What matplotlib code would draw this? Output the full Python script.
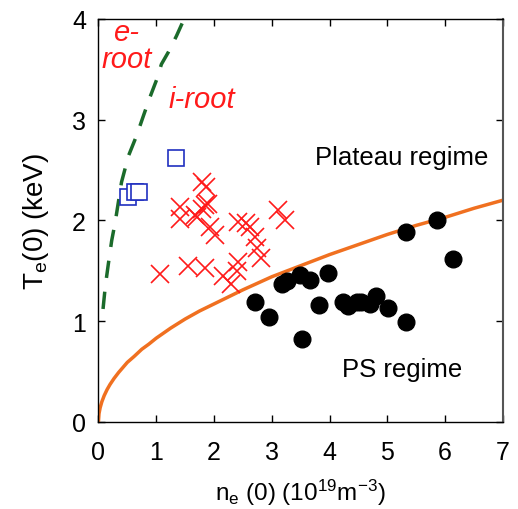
#! /usr/bin/env python3
# -*- coding: utf-8 -*-
"""
@brief   T_e(0) vs n_e(0) with e-root / i-root and PS / plateau regimes
"""

import matplotlib
matplotlib.use("Agg")
import matplotlib.pyplot as plt

# -----------------------------------------------------------------------------

# data
# boundary e-root / i-root (green dashed)
root_n = [0.08, 0.12, 0.17, 0.23, 0.29, 0.40, 0.52, 0.66, 0.78, 0.89,
          1.01, 1.09, 1.21, 1.35, 1.46]
root_T = [1.12, 1.35, 1.56, 1.80, 1.98, 2.38, 2.64, 2.84, 3.04, 3.22,
          3.40, 3.55, 3.67, 3.83, 3.97]

# boundary plateau / PS regime (orange)
ps_n = [0, 0.01, 0.03, 0.06, 0.1, 0.15, 0.2, 0.27, 0.35, 0.5, 0.62, 0.75,
        0.87, 1, 1.25, 1.5, 1.75, 2, 2.5, 3, 3.5, 4, 4.5, 5, 5.5, 6, 6.5, 7]
ps_T = [0, 0.08, 0.14, 0.20, 0.26, 0.32, 0.37, 0.43, 0.49, 0.59, 0.65,
        0.72, 0.77, 0.83, 0.93, 1.02, 1.10, 1.17, 1.31, 1.44, 1.55, 1.66,
        1.76, 1.86, 1.95, 2.03, 2.12, 2.20]

# e-root shots (blue squares)
sq_n = [0.52, 0.63, 0.70, 1.34]
sq_T = [2.23, 2.28, 2.28, 2.62]

# plateau shots (red crosses)
x_n = [1.79, 1.87, 1.41, 1.41, 1.67, 1.84, 1.90, 1.79, 1.70, 1.93, 2.02,
       2.42, 2.56, 2.62, 3.11, 3.23, 2.71, 2.74, 2.82, 1.06, 1.55, 1.84,
       2.16, 2.30, 2.42, 2.39]
x_T = [2.38, 2.33, 2.13, 2.01, 2.05, 2.15, 2.16, 2.11, 2.03, 1.93, 1.85,
       1.98, 1.97, 1.93, 2.10, 2.00, 1.83, 1.73, 1.63, 1.47, 1.55, 1.53,
       1.45, 1.37, 1.59, 1.50]

# PS shots (black dots)
dot_n = [2.71, 2.96, 3.17, 3.26, 3.49, 3.66, 3.97, 3.82, 3.53, 4.24, 4.32,
         4.47, 4.55, 4.70, 4.81, 5.01, 5.33, 5.33, 5.86, 6.14]
dot_T = [1.19, 1.04, 1.37, 1.40, 1.46, 1.41, 1.48, 1.16, 0.82, 1.19, 1.15,
         1.19, 1.19, 1.17, 1.25, 1.13, 0.99, 1.88, 2.00, 1.62]

# -----------------------------------------------------------------------------

def MakePlot():
    """draw the regime diagram"""
    plt.rcParams['font.family'] = ['Liberation Sans', 'DejaVu Sans']
    plt.rcParams['mathtext.fontset'] = 'custom'
    plt.rcParams['mathtext.rm'] = 'Liberation Sans'
    plt.rcParams['mathtext.it'] = 'Liberation Sans:italic'

    fig = plt.figure(figsize=(5.18, 5.10), dpi=100)
    ax = fig.add_axes([0.190, 0.171, 0.781, 0.790])

    # curves
    ax.plot(ps_n, ps_T, color='#f07020', lw=2.5, zorder=2)
    ax.plot(root_n, root_T, color='#1b6b2b', lw=2.5, dashes=(5, 4), zorder=2)

    # measured points
    ax.plot(dot_n, dot_T, 'o', color='black', ms=12, zorder=3)
    ax.plot(x_n, x_T, 'x', color='#ff1a1a', ms=12.5, mew=1.2, zorder=3)
    ax.plot(sq_n, sq_T, 's', mfc='white', mec='#2030c0', ms=11, mew=1.2,
            zorder=4)

    # labels inside the plot
    red = dict(color='#ff1a1a', style='italic', fontsize=21, va='baseline')
    ax.text(0.26, 3.79, 'e-', ha='left', **red)
    ax.text(0.06, 3.52, 'root', ha='left', **red)
    ax.text(1.79, 3.13, 'i-root', ha='center', **red)
    ax.text(5.24, 2.56, 'Plateau regime', fontsize=18.5, ha='center',
            va='baseline')
    ax.text(5.25, 0.45, 'PS regime', fontsize=18.5, ha='center',
            va='baseline')

    # axes
    ax.set_xlim(0, 7)
    ax.set_ylim(0, 4)
    ax.set_xticks(range(0, 8))
    ax.set_yticks(range(0, 5))
    ax.tick_params(direction='in', top=True, right=True, length=5,
                   width=1, labelsize=18)
    ax.tick_params(axis='x', pad=13)
    ax.tick_params(axis='y', pad=9)
    for s in ax.spines.values():
        s.set_linewidth(1.0)
    ax.spines['right'].set_color('#555555')
    ax.spines['right'].set_linewidth(1.5)
    ax.set_xlabel(r'n$_{\mathrm{e}}$ (0) (10$^{19}$m$^{-3}$)', fontsize=17.5,
                  labelpad=9)
    ax.set_ylabel(r'T$_{\mathrm{e}}$(0) (keV)', fontsize=20, labelpad=15)

    fig.savefig('out.png', dpi=100)

# -----------------------------------------------------------------------------

if __name__ == "__main__":
    MakePlot()
